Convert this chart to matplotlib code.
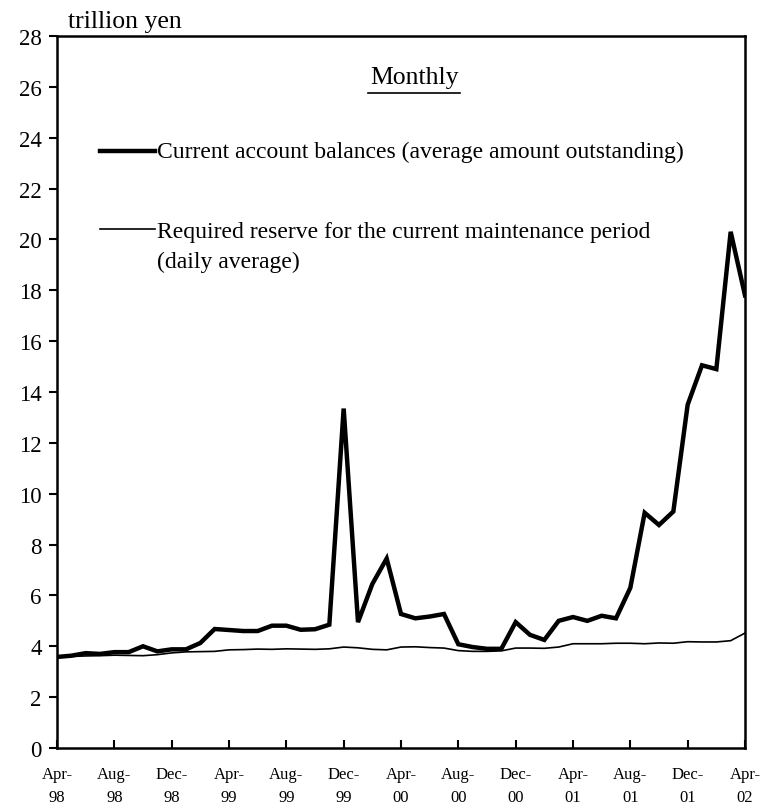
import matplotlib
matplotlib.use("Agg")
import matplotlib.pyplot as plt
from matplotlib.lines import Line2D
import numpy as np

months = ["Apr-98","May-98","Jun-98","Jul-98","Aug-98","Sep-98","Oct-98","Nov-98","Dec-98","Jan-99","Feb-99","Mar-99",
          "Apr-99","May-99","Jun-99","Jul-99","Aug-99","Sep-99","Oct-99","Nov-99","Dec-99","Jan-00","Feb-00","Mar-00",
          "Apr-00","May-00","Jun-00","Jul-00","Aug-00","Sep-00","Oct-00","Nov-00","Dec-00","Jan-01","Feb-01","Mar-01",
          "Apr-01","May-01","Jun-01","Jul-01","Aug-01","Sep-01","Oct-01","Nov-01","Dec-01","Jan-02","Feb-02","Mar-02",
          "Apr-02"]

current_account = [3.58, 3.63, 3.73, 3.7, 3.77, 3.77, 4.0, 3.8, 3.88, 3.88, 4.13, 4.68,
                   4.64, 4.6, 4.6, 4.81, 4.81, 4.65, 4.67, 4.85, 13.35, 4.95, 6.45, 7.45,
                   5.27, 5.1, 5.17, 5.27, 4.08, 3.97, 3.9, 3.9, 4.95, 4.45, 4.25, 5.0,
                   5.15, 5.0, 5.2, 5.1, 6.3, 9.25, 8.77, 9.3, 13.5, 15.05, 14.9, 20.3,
                   17.8]

required_reserve = [3.58, 3.6, 3.62, 3.63, 3.65, 3.64, 3.63, 3.67, 3.74, 3.78, 3.79, 3.8,
                    3.86, 3.87, 3.89, 3.88, 3.9, 3.89, 3.88, 3.9, 3.97, 3.94, 3.88, 3.86,
                    3.97, 3.98, 3.95, 3.93, 3.83, 3.8, 3.8, 3.82, 3.93, 3.93, 3.92, 3.97,
                    4.1, 4.1, 4.1, 4.12, 4.12, 4.1, 4.13, 4.12, 4.18, 4.17, 4.17, 4.22,
                    4.52]

tick_labels = ["Apr-\n98","Aug-\n98","Dec-\n98","Apr-\n99","Aug-\n99","Dec-\n99","Apr-\n00",
               "Aug-\n00","Dec-\n00","Apr-\n01","Aug-\n01","Dec-\n01","Apr-\n02"]

plt.rcParams['font.family'] = ['Liberation Serif', 'DejaVu Serif']

fig = plt.figure(figsize=(7.62, 8.12), dpi=100)
ax = fig.add_axes([57/762, 63/812, 688/762, 712/812])

x = np.arange(len(months))
ax.plot(x, current_account, color='black', lw=3.2, solid_joinstyle='miter')
ax.plot(x, required_reserve, color='black', lw=1.2)

ax.set_xlim(0, len(months) - 1)
ax.set_ylim(0, 28)
ax.set_yticks(np.arange(0, 29, 2))
ax.set_xticks(x[::4])
ax.set_xticklabels(tick_labels, fontsize=12, linespacing=1.55)
ax.tick_params(axis='x', direction='in', length=6, width=1.5, pad=13)
ax.tick_params(axis='y', direction='out', length=6, width=1.5, labelsize=16.5, pad=5)
for s in ax.spines.values():
    s.set_linewidth(1.8)

ax.text(0.016, 1.0126, "trillion yen", transform=ax.transAxes, fontsize=18.5, ha='left', va='baseline')

ax.text(0.519, 0.9424, "Monthly", transform=ax.transAxes, fontsize=18.5, ha='center', va='center')
ax.add_line(Line2D([0.452, 0.586], [0.92, 0.92], transform=ax.transAxes, color='black', lw=1.2))

ax.add_line(Line2D([0.0625, 0.1424], [0.8385, 0.8385], transform=ax.transAxes, color='black', lw=3.2))
ax.text(0.1453, 0.8385, "Current account balances (average amount outstanding)", transform=ax.transAxes,
        fontsize=17, ha='left', va='center')
ax.add_line(Line2D([0.0625, 0.1424], [0.729, 0.729], transform=ax.transAxes, color='black', lw=1.2))
ax.text(0.1453, 0.726, "Required reserve for the current maintenance period", transform=ax.transAxes,
        fontsize=17, ha='left', va='center')
ax.text(0.1453, 0.684, "(daily average)", transform=ax.transAxes,
        fontsize=17, ha='left', va='center')

fig.savefig("out.png", dpi=100)
